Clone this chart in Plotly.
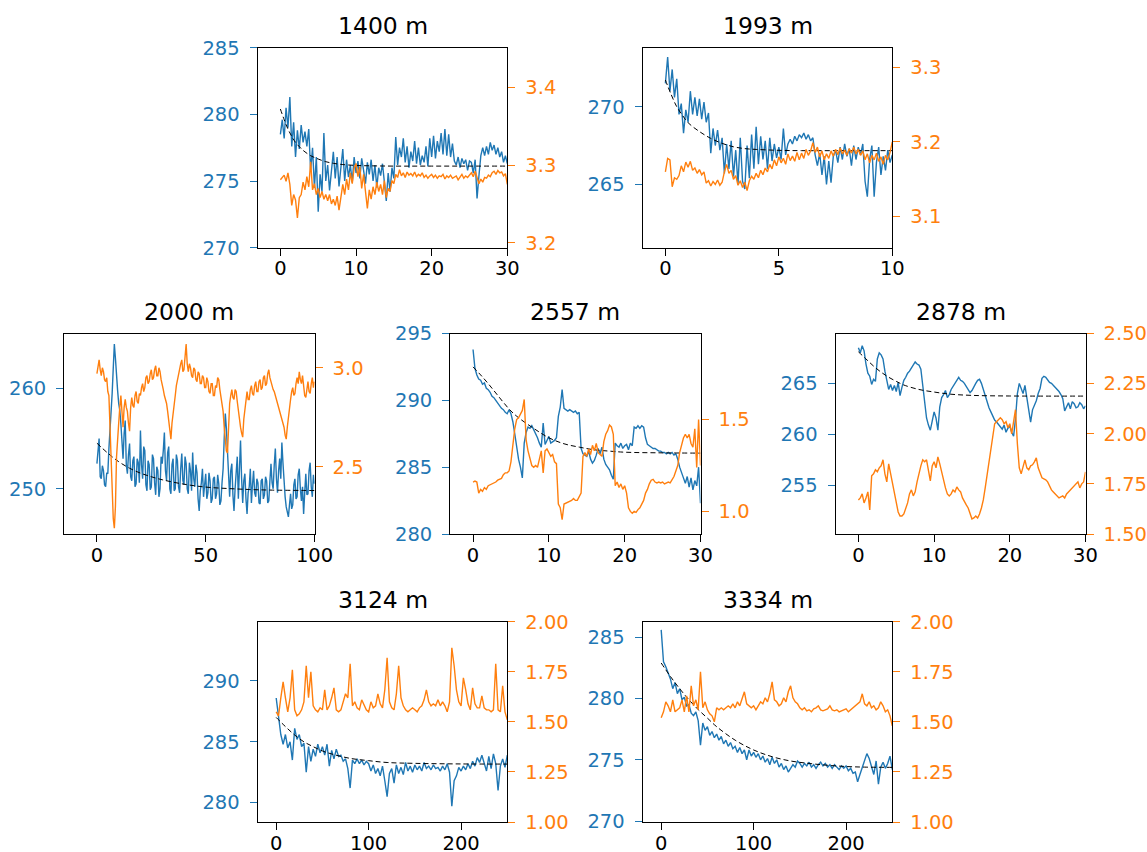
import numpy as np
import plotly.graph_objects as go

BLUE = "#1f77b4"
ORANGE = "#ff7f0e"
FONT = "DejaVu Sans"
W, H = 1147, 852

titles = ["1400 m", "1993 m", "2000 m", "2557 m", "2878 m", "3124 m", "3334 m"]
x_end = [30, 10, 100, 30, 30, 250, 250]

# ---------------- panel 1 : 1400 m ----------------
p1_blue = [278.5, 279.6, 278.2, 280.5, 279.0,
           281.3, 277.6, 279.4, 276.8, 278.8, 277.4, 279.2, 277.9,
           278.7, 277.6, 278.9, 275.8, 277.5, 274.5, 276.8, 272.7,
           275.5, 274.2, 278.6, 275.0, 276.2, 274.3, 275.8, 277.2,
           275.2, 276.8, 274.6, 275.9, 277.4, 275.0, 276.6, 275.3,
           276.2, 274.9, 276.8, 275.6, 276.5, 275.2, 276.7, 275.8,
           274.8, 276.4, 275.5, 276.6, 275.0, 276.2, 274.5, 276.0,
           275.4, 276.3, 274.7, 273.5, 275.6, 274.2, 276.0, 275.2,
           278.3, 276.2, 277.5, 276.8, 278.2, 276.4, 277.6, 276.0,
           277.2, 276.5, 278.0, 276.3, 277.5, 276.2, 276.9, 276.4,
           277.6, 276.1, 278.2, 276.8, 278.4, 276.7, 278.0, 277.2,
           278.6, 277.0, 278.9, 276.9, 278.5, 276.8, 277.8, 276.5,
           276.2, 276.8, 276.0, 276.7, 276.3, 276.6, 275.8, 276.5,
           276.4, 275.6, 276.6, 273.7, 275.4, 276.9, 277.5, 276.9,
           277.6, 277.0, 277.9, 277.3, 277.7, 277.0, 277.5, 276.8,
           277.2, 276.4, 276.9, 276.3]
p1_orange = [3.281, 3.284, 3.287, 3.279, 3.290,
             3.275, 3.248, 3.262, 3.255, 3.232, 3.258, 3.262, 3.278,
             3.268, 3.285, 3.272, 3.304, 3.268, 3.276, 3.262, 3.270,
             3.258, 3.266, 3.256, 3.262, 3.254, 3.262, 3.250, 3.256,
             3.248, 3.260, 3.242, 3.258, 3.275, 3.262, 3.282, 3.268,
             3.290, 3.276, 3.296, 3.302, 3.285, 3.298, 3.270, 3.288,
             3.262, 3.244, 3.268, 3.256, 3.272, 3.262, 3.278, 3.266,
             3.275, 3.262, 3.280, 3.258, 3.270, 3.266, 3.280, 3.276,
             3.288, 3.284, 3.294, 3.286, 3.290, 3.284, 3.291, 3.287,
             3.289, 3.286, 3.291, 3.285, 3.288, 3.286, 3.290, 3.284,
             3.287, 3.283, 3.286, 3.288, 3.284, 3.287, 3.283, 3.286,
             3.285, 3.288, 3.282, 3.286, 3.284, 3.287, 3.283, 3.285,
             3.286, 3.281, 3.285, 3.288, 3.283, 3.286, 3.284, 3.287,
             3.290, 3.285, 3.292, 3.284, 3.276, 3.282, 3.278, 3.284,
             3.283, 3.287, 3.285, 3.290, 3.292, 3.288, 3.293, 3.290,
             3.291, 3.286, 3.289, 3.275]
p1_fit_x = [0, 0.5, 1, 1.5, 2, 3, 4, 5, 6, 7, 8, 10, 12, 15, 20, 25, 30]
p1_fit_y = [280.4, 279.6, 278.9, 278.35, 277.9, 277.3, 276.9, 276.65, 276.45,
            276.33, 276.25, 276.17, 276.14, 276.12, 276.12, 276.12, 276.12]

# ---------------- panel 2 : 1993 m ----------------
p2_blue = [271.5, 273.2, 271.0, 272.4, 270.6, 271.8, 269.5, 270.2, 268.3, 269.8,
           269.0, 271.0, 269.5, 270.6, 269.4, 270.5, 269.2, 270.3, 269.0, 269.6,
           267.0, 268.6, 267.5, 268.5, 267.2, 268.0, 265.7, 267.6, 266.0, 267.8,
           265.5, 267.2, 265.0, 268.0, 265.2, 264.7, 267.5, 265.4, 268.2, 266.0,
           268.7, 266.3, 268.1, 266.6, 267.8, 266.0, 268.0, 266.5, 267.6, 266.7,
           267.4, 266.6, 268.6, 266.9, 267.6, 267.9, 267.6, 268.1, 267.8, 268.2,
           268.0, 268.3, 267.9, 268.2, 267.8, 268.0, 266.9, 266.2, 267.0, 265.6,
           266.8, 265.0, 266.5, 265.1, 266.8, 267.2, 266.4, 267.4, 266.6, 267.6,
           266.8, 267.3, 266.2, 267.5, 266.6, 267.4, 266.9, 267.6, 265.2, 264.2,
           266.6, 267.5, 264.2, 266.4, 267.4, 265.6, 266.8, 265.9, 267.2, 266.4,
           266.9]
p2_orange = [3.160, 3.178, 3.176, 3.140, 3.152, 3.150, 3.155, 3.168, 3.160, 3.173,
             3.166, 3.174, 3.162, 3.165, 3.158, 3.163, 3.156, 3.160, 3.145, 3.148,
             3.141, 3.147, 3.143, 3.149, 3.142, 3.146, 3.160, 3.170, 3.158, 3.162,
             3.150, 3.155, 3.142, 3.148, 3.139, 3.146, 3.135, 3.148, 3.154, 3.150,
             3.158, 3.152, 3.162, 3.156, 3.165, 3.160, 3.170, 3.164, 3.176, 3.168,
             3.180, 3.172, 3.178, 3.170, 3.184, 3.175, 3.181, 3.174, 3.186, 3.176,
             3.185, 3.178, 3.190, 3.182, 3.188, 3.199, 3.186, 3.193, 3.180, 3.188,
             3.176, 3.184, 3.178, 3.188, 3.181, 3.190, 3.183, 3.192, 3.184, 3.189,
             3.182, 3.191, 3.185, 3.193, 3.184, 3.190, 3.182, 3.188, 3.176, 3.184,
             3.172, 3.182, 3.176, 3.185, 3.174, 3.180, 3.170, 3.182, 3.176, 3.186,
             3.200]
p2_fit_x = [0, 0.25, 0.5, 0.75, 1, 1.5, 2, 2.5, 3, 3.5, 4, 5, 6, 8, 10]
p2_fit_y = [271.72, 270.8, 270.0, 269.45, 268.97, 268.4, 267.96, 267.64, 267.42,
            267.3, 267.25, 267.19, 267.17, 267.17, 267.17]

# ---------------- panel 3 : 2000 m ----------------
p3_blue = [252.5, 254.0, 255.0, 251.2, 251.0, 252.3, 251.8, 250.4, 250.2, 251.6,
           251.5, 254.0, 255.5, 257.0, 259.5, 262.0, 264.4, 263.0, 261.0, 259.8,
           258.5, 257.8, 256.5, 254.2, 253.0, 255.5, 256.8, 252.4, 251.5, 253.4,
           254.5, 251.2, 250.8, 252.8, 253.2, 250.2, 250.5, 253.0, 252.6, 250.6,
           255.8, 252.4, 251.0, 254.2, 253.8, 250.4, 249.8, 252.8, 252.4, 249.9,
           250.2, 253.4, 253.0, 250.6, 249.4, 252.2, 251.8, 249.2, 250.0, 253.2,
           252.5, 253.8, 255.6, 251.8, 250.8, 253.6, 254.2, 250.0, 249.5, 252.4,
           253.0, 249.8, 250.0, 253.4, 252.8, 250.2, 249.6, 252.0, 253.5, 250.8,
           250.4, 253.2, 252.5, 250.0, 249.5, 252.6, 251.8, 249.8, 253.6, 251.0,
           250.2, 252.4, 251.6, 249.0, 247.8, 249.8, 250.6, 252.0, 249.2, 250.4,
           251.5, 249.0, 249.6, 251.6, 250.8, 248.6, 249.0, 251.0, 251.2, 249.0,
           249.5, 251.4, 250.5, 248.4, 248.8, 250.6, 252.0, 255.0, 257.5, 256.0,
           254.0, 251.0, 249.2, 251.8, 252.5, 249.4, 247.8, 250.0, 251.2, 253.2,
           249.0, 251.4, 254.8, 251.0, 248.6, 250.8, 251.5, 249.0, 247.5, 249.6,
           250.2, 252.0, 248.6, 250.4, 251.8, 249.6, 249.2, 251.0, 250.6, 248.6,
           248.5, 250.8, 251.0, 249.0, 249.4, 251.2, 250.8, 248.6, 248.8, 250.8,
           252.5, 250.6, 250.0, 252.4, 254.0, 251.0, 249.6, 251.8, 253.0, 251.0,
           254.6, 252.6, 250.5, 249.2, 248.2, 247.6, 247.2, 248.4, 249.5, 248.0,
           248.4, 250.4, 251.0, 249.0, 249.2, 251.4, 252.0, 250.0, 248.8, 250.2,
           247.5, 249.6, 251.5, 249.4, 249.5, 251.8, 252.6, 250.2, 249.2, 251.4,
           250.5]
p3_orange = [2.97, 3.02, 3.04, 2.99, 2.96, 3.00, 2.98, 2.94, 2.93, 2.95,
             2.88, 2.86, 2.72, 2.55, 2.35, 2.24, 2.19, 2.30, 2.55, 2.66,
             2.72, 2.80, 2.86, 2.78, 2.70, 2.80, 2.84, 2.80, 2.78, 2.72,
             2.68, 2.80, 2.85, 2.81, 2.80, 2.86, 2.88, 2.83, 2.82, 2.87,
             2.86, 2.90, 2.92, 2.88, 2.90, 2.95, 2.96, 2.92, 2.93, 2.97,
             2.99, 2.94, 2.95, 2.99, 3.01, 2.96, 2.96, 3.00, 2.98, 2.94,
             2.92, 2.89, 2.86, 2.84, 2.82, 2.78, 2.74, 2.70, 2.64, 2.72,
             2.78, 2.83, 2.86, 2.91, 2.94, 2.97, 2.98, 3.02, 3.04, 2.98,
             2.99, 3.06, 3.12, 3.02, 2.98, 3.02, 3.00, 2.96, 2.95, 3.00,
             2.99, 2.94, 2.93, 2.98, 2.97, 2.92, 2.92, 2.96, 2.95, 2.90,
             2.90, 2.95, 2.93, 2.88, 2.87, 2.92, 2.92, 2.86, 2.86, 2.91,
             2.90, 2.95, 2.94, 2.89, 2.86, 2.82, 2.78, 2.70, 2.62, 2.58,
             2.57, 2.72, 2.82, 2.86, 2.89, 2.85, 2.84, 2.89, 2.88, 2.83,
             2.78, 2.74, 2.70, 2.67, 2.65, 2.74, 2.80, 2.85, 2.88, 2.84,
             2.84, 2.89, 2.91, 2.87, 2.86, 2.91, 2.93, 2.88, 2.88, 2.93,
             2.94, 2.89, 2.90, 2.95, 2.96, 2.91, 2.92, 2.97, 2.99, 2.95,
             2.93, 2.90, 2.89, 2.88, 2.86, 2.83, 2.82, 2.80, 2.78, 2.76,
             2.74, 2.72, 2.70, 2.66, 2.64, 2.70, 2.76, 2.80, 2.84, 2.88,
             2.90, 2.86, 2.87, 2.92, 2.95, 2.92, 2.98, 2.94, 2.92, 2.96,
             2.90, 2.86, 2.85, 2.90, 2.93, 2.88, 2.87, 2.92, 2.95, 2.90,
             2.93]
p3_fit_x = [0, 5, 10, 15, 20, 25, 30, 40, 50, 60, 70, 80, 100]
p3_fit_y = [254.54, 253.55, 252.7, 252.05, 251.56, 251.2, 250.9, 250.46, 250.17,
            250.03, 249.93, 249.87, 249.83]

# ---------------- panel 4 : 2557 m ----------------
p4_blue = [293.8, 292.4, 291.9, 291.6, 291.5, 291.2, 291.3, 290.9, 290.8, 290.6,
           290.3, 290.2, 290.0, 289.8, 289.6, 289.4, 289.3, 289.1, 289.0, 289.3,
           289.0, 288.4, 287.5, 286.4, 285.6, 285.0, 284.2, 286.8, 287.6, 288.0,
           287.9, 288.1, 287.8, 287.6, 287.2, 286.8, 286.5, 288.3, 286.7, 287.0,
           287.3, 286.8, 286.9, 287.0, 287.2, 288.8, 289.5, 290.8, 289.4, 289.3,
           289.2, 289.3, 289.2, 289.1, 289.2, 289.0, 289.1, 286.4, 286.0, 285.9,
           285.8, 286.2, 285.6, 285.3, 285.5, 285.9, 286.4, 286.0, 286.5, 285.6,
           285.2, 285.0, 284.8, 284.4, 284.1, 286.8, 286.6, 286.5, 286.8, 286.4,
           286.6, 286.7, 286.3, 286.8, 286.6, 288.0, 287.9, 288.1, 287.9, 288.1,
           288.0, 287.2, 286.7, 286.6, 286.5, 286.4, 286.4, 286.3, 286.2, 286.2,
           286.1, 286.1, 286.0, 286.1, 286.0, 286.1, 285.9, 286.0, 285.6, 285.0,
           284.5, 284.2, 283.8, 284.3, 283.5, 284.2, 283.3, 284.0, 283.6, 285.0,
           282.3]
p4_orange = [1.16, 1.165, 1.16, 1.10, 1.12, 1.11, 1.13, 1.12, 1.14, 1.145,
             1.15, 1.155, 1.16, 1.17, 1.175, 1.18, 1.20, 1.21, 1.21, 1.22,
             1.27, 1.36, 1.45, 1.50, 1.51, 1.53, 1.55, 1.61, 1.39, 1.33,
             1.28, 1.25, 1.24, 1.25, 1.24, 1.28, 1.33, 1.21, 1.33, 1.34,
             1.32, 1.30, 1.31, 1.27, 1.26, 1.04, 1.02, 0.955, 1.04, 1.045,
             1.05, 1.055, 1.06, 1.07, 1.06, 1.06, 1.08, 1.10, 1.30, 1.32,
             1.30, 1.34, 1.31, 1.36, 1.33, 1.37, 1.32, 1.31, 1.30, 1.38,
             1.42, 1.44, 1.47, 1.46, 1.42, 1.14, 1.16, 1.13, 1.15, 1.12,
             1.14, 1.10, 1.02, 1.00, 0.99, 1.00, 0.995, 1.01, 1.02, 1.04,
             1.06, 1.10, 1.12, 1.15, 1.17, 1.175, 1.16, 1.155, 1.16, 1.155,
             1.16, 1.15, 1.155, 1.16, 1.155, 1.17, 1.19, 1.22, 1.25, 1.32,
             1.36, 1.40, 1.42, 1.40, 1.42, 1.37, 1.35, 1.45, 1.24, 1.50,
             1.25]
p4_fit_x = [0, 1, 2, 3, 4, 5, 6, 8, 10, 12, 14, 16, 18, 20, 25, 30]
p4_fit_y = [292.5, 291.9, 291.25, 290.55, 289.85, 289.2, 288.7, 287.9, 287.2,
            286.75, 286.5, 286.3, 286.2, 286.12, 286.07, 286.05]

# ---------------- panel 5 : 2878 m ----------------
p5_blue = [268.5, 268.0, 268.7, 268.2, 266.9, 266.0, 265.7, 264.9, 265.4, 265.2,
           267.4, 268.0, 267.8, 267.4, 266.2, 265.2, 264.4, 264.9, 264.3, 264.8,
           264.2, 265.1, 263.8, 264.6, 265.3, 265.6, 266.0, 266.2, 266.5, 266.8,
           267.1, 266.9, 266.8, 266.4, 264.8, 263.0, 261.6, 260.9, 260.4, 261.3,
           262.2, 261.6, 260.4, 262.7, 263.6, 263.9, 264.3, 263.6, 263.9, 264.4,
           264.7, 265.0, 265.4, 265.6, 265.3, 265.2, 265.0, 264.7, 264.5, 264.1,
           264.3, 264.7, 265.0, 265.3, 265.4, 265.0, 264.4, 263.7, 263.0, 262.6,
           262.2, 261.7, 261.4, 261.2, 261.0, 260.8, 260.5, 260.9, 260.2, 260.6,
           260.8, 260.2, 259.8, 261.5, 264.0, 265.0, 264.4, 264.0, 264.8, 263.6,
           262.5, 261.2, 262.4, 262.8, 263.3, 264.0, 264.5, 265.5, 265.7, 265.6,
           265.3, 265.1, 265.0, 264.8, 264.7, 264.5, 264.2, 263.9, 263.5, 262.3,
           262.8, 263.1, 262.5, 263.2, 263.0, 262.6, 262.7, 263.1, 262.9, 262.5,
           262.8]
p5_orange = [1.67, 1.68, 1.70, 1.655, 1.68, 1.71, 1.62, 1.79, 1.80, 1.82,
             1.81, 1.83, 1.84, 1.87, 1.80, 1.76, 1.85, 1.80, 1.75, 1.70,
             1.64, 1.61, 1.59, 1.59, 1.60, 1.63, 1.655, 1.70, 1.72, 1.69,
             1.71, 1.76, 1.81, 1.84, 1.87, 1.86, 1.87, 1.82, 1.765, 1.84,
             1.86, 1.83, 1.885, 1.85, 1.81, 1.76, 1.73, 1.70, 1.69, 1.70,
             1.72, 1.71, 1.735, 1.72, 1.71, 1.68, 1.66, 1.645, 1.63, 1.60,
             1.575, 1.58, 1.59, 1.58, 1.60, 1.63, 1.67, 1.73, 1.79, 1.85,
             1.92, 1.98, 2.05, 2.06, 2.07, 2.08, 2.07, 2.05, 2.06, 2.03,
             2.05, 2.00, 2.06, 2.12, 1.95, 1.83, 1.80, 1.84, 1.87, 1.83,
             1.82, 1.84, 1.845, 1.86, 1.88, 1.83, 1.80, 1.78, 1.775, 1.77,
             1.76, 1.74, 1.72, 1.71, 1.70, 1.69, 1.68, 1.685, 1.69, 1.68,
             1.70, 1.71, 1.72, 1.73, 1.74, 1.75, 1.76, 1.73, 1.75, 1.76,
             1.81]
p5_fit_x = [0, 1, 2, 3, 4, 5, 6, 8, 10, 12, 15, 20, 30]
p5_fit_y = [268.1, 267.4, 266.7, 266.1, 265.6, 265.2, 264.84, 264.4, 264.15,
            263.95, 263.82, 263.76, 263.75]

# ---------------- panel 6 : 3124 m ----------------
p6_blue = [288.6, 287.0, 285.6, 284.8, 285.6, 284.5, 285.0, 283.5, 286.1, 285.2,
           285.6, 284.6, 284.9, 282.5, 284.6, 283.4, 284.4, 283.8, 284.8, 284.1,
           284.6, 283.9, 284.8, 283.0, 284.3, 283.6, 284.4, 283.8, 283.9, 283.4,
           283.6, 282.8, 281.2, 283.5, 283.2, 283.6, 283.2, 283.5, 283.1, 283.4,
           283.2, 282.6, 283.1, 282.4, 282.8, 282.2, 283.0, 281.8, 280.5, 282.4,
           282.8, 281.6, 283.1, 282.4, 282.9, 282.3, 283.3, 282.6, 283.0, 282.5,
           283.1, 282.7, 283.0, 282.6, 283.3, 282.8, 283.0, 282.7, 283.1, 282.8,
           282.9, 282.6, 283.0, 282.7, 283.2, 282.5, 279.7, 281.8, 282.2, 282.9,
           282.6, 283.0, 282.7, 283.2, 282.8, 283.4, 283.0, 283.7, 283.3, 283.9,
           283.2, 282.6, 283.8, 282.8, 284.0, 283.2, 281.0, 283.0, 283.6, 282.9,
           283.9]
p6_orange = [1.55, 1.53, 1.62, 1.70, 1.62, 1.55, 1.62, 1.76, 1.56, 1.53,
             1.54, 1.56, 1.60, 1.78, 1.62, 1.75, 1.58, 1.56, 1.55, 1.57,
             1.56, 1.66, 1.56, 1.58, 1.62, 1.67, 1.56, 1.55, 1.56, 1.60,
             1.64, 1.62, 1.79, 1.58, 1.60, 1.57, 1.56, 1.61, 1.58, 1.56,
             1.55, 1.60, 1.57, 1.58, 1.64, 1.59, 1.57, 1.66, 1.82, 1.60,
             1.57, 1.56, 1.64, 1.78, 1.62, 1.58, 1.56, 1.55, 1.56, 1.57,
             1.56, 1.55, 1.57, 1.58, 1.61, 1.66, 1.60, 1.58, 1.59, 1.58,
             1.61, 1.58, 1.60, 1.58, 1.55, 1.60, 1.87, 1.78, 1.66, 1.60,
             1.58, 1.72, 1.66, 1.59, 1.56, 1.67, 1.59, 1.57, 1.57, 1.63,
             1.57, 1.56, 1.56, 1.55, 1.56, 1.79, 1.56, 1.55, 1.68, 1.55,
             1.51]
p6_fit_x = [0, 10, 20, 30, 40, 50, 60, 80, 100, 120, 150, 200, 250]
p6_fit_y = [287.0, 286.25, 285.56, 285.0, 284.6, 284.25, 284.0, 283.64, 283.45,
            283.3, 283.23, 283.18, 283.17]

# ---------------- panel 7 : 3334 m ----------------
p7_blue = [285.6, 283.0, 282.6, 282.1, 281.6, 280.8, 281.3, 280.4, 280.8, 279.9,
           280.1, 279.4, 279.5, 278.8, 278.6, 278.9, 278.2, 276.2, 278.0, 277.4,
           277.7, 277.0, 277.3, 276.8, 277.1, 276.6, 276.9, 276.3, 276.6, 276.1,
           276.4, 275.9, 276.1, 275.6, 276.0, 275.5, 275.8, 275.0, 275.8, 275.3,
           275.6, 275.2, 275.5, 275.0, 275.3, 274.8, 275.1, 274.6, 275.2, 274.7,
           275.0, 274.4, 274.7, 274.2, 274.5, 274.0, 274.3, 274.6, 274.4, 274.9,
           274.7, 274.4, 274.7, 274.5, 274.8, 274.4, 274.6, 274.3, 274.6, 274.8,
           274.5, 274.7, 274.4, 274.6, 274.3, 274.6, 274.4, 274.2, 274.5, 274.3,
           274.5, 274.1, 274.3, 273.9, 274.0, 273.2, 273.8, 274.4, 274.9, 275.5,
           275.1, 274.4, 273.8, 274.9, 273.0, 274.4, 274.8, 274.3, 274.7, 275.3,
           274.2]
p7_orange = [1.52, 1.55, 1.60, 1.58, 1.55, 1.61, 1.55, 1.56, 1.57, 1.61,
             1.55, 1.63, 1.55, 1.68, 1.58, 1.61, 1.56, 1.75, 1.57, 1.60,
             1.56, 1.54, 1.53, 1.50, 1.57, 1.56, 1.57, 1.56, 1.57, 1.58,
             1.57, 1.59, 1.57, 1.60, 1.58, 1.61, 1.65, 1.59, 1.58, 1.57,
             1.58, 1.56, 1.58, 1.60, 1.59, 1.62, 1.60, 1.64, 1.70, 1.61,
             1.60, 1.58, 1.59, 1.62, 1.60, 1.65, 1.68, 1.62, 1.60, 1.59,
             1.57, 1.56, 1.57, 1.555, 1.56, 1.55, 1.565, 1.57, 1.58, 1.56,
             1.555, 1.56, 1.565, 1.58, 1.56, 1.555, 1.56, 1.55, 1.555, 1.56,
             1.565, 1.55, 1.56, 1.57, 1.58, 1.59, 1.60, 1.64, 1.59, 1.58,
             1.60, 1.57, 1.58, 1.56, 1.57, 1.60, 1.58, 1.55, 1.56, 1.53,
             1.48]
p7_fit_x = [0, 10, 20, 30, 40, 50, 60, 80, 100, 120, 140, 160, 180, 200, 220, 250]
p7_fit_y = [282.9, 281.8, 280.8, 279.9, 279.1, 278.4, 277.7, 276.6, 275.8, 275.25,
            274.9, 274.7, 274.55, 274.45, 274.4, 274.38]

# axis ranges and ticks
x_ranges = [[-3, 30], [-1, 10], [-15, 100], [-3, 30], [-3, 30], [-20, 250], [-20, 250]]
x_ticks = [[0, 10, 20, 30], [0, 5, 10], [0, 50, 100], [0, 10, 20, 30],
           [0, 10, 20, 30], [0, 100, 200], [0, 100, 200]]
yl_ranges = [[270, 285], [260.92, 273.8], [245.5, 265.46], [280, 295],
             [250.2, 269.9], [278.41, 294.87], [269.92, 286.27]]
yl_ticks = [[270, 275, 280, 285], [265, 270], [250, 260], [280, 285, 290, 295],
            [255, 260, 265], [280, 285, 290], [270, 275, 280, 285]]
yr_ranges = [[3.1936, 3.451], [3.0585, 3.326], [2.161, 3.173], [0.877, 1.969],
             [1.5, 2.5], [1.0, 2.0], [1.0, 2.0]]
yr_ticks = [[3.2, 3.3, 3.4], [3.1, 3.2, 3.3], [2.5, 3.0], [1.0, 1.5],
            [1.5, 1.75, 2.0, 2.25, 2.5], [1.0, 1.25, 1.5, 1.75, 2.0],
            [1.0, 1.25, 1.5, 1.75, 2.0]]
yr_fmt = [".1f", ".1f", ".1f", ".1f", ".2f", ".2f", ".2f"]

# panel boxes in pixels: left, right, top, bottom
boxes = [(257.7, 507.3, 47.7, 247.7), (642.7, 892.3, 47.7, 247.7),
         (64.3, 314.5, 333.5, 534.0), (450.3, 700.5, 333.5, 534.0),
         (835.7, 1085.5, 333.5, 534.0),
         (257.7, 507.3, 621.7, 822.0), (642.7, 892.3, 621.7, 822.0)]

blues = [p1_blue, p2_blue, p3_blue, p4_blue, p5_blue, p6_blue, p7_blue]
oranges = [p1_orange, p2_orange, p3_orange, p4_orange, p5_orange, p6_orange, p7_orange]
fits_x = [p1_fit_x, p2_fit_x, p3_fit_x, p4_fit_x, p5_fit_x, p6_fit_x, p7_fit_x]
fits_y = [p1_fit_y, p2_fit_y, p3_fit_y, p4_fit_y, p5_fit_y, p6_fit_y, p7_fit_y]

fig = go.Figure()
layout = dict(width=W, height=H, margin=dict(l=0, r=0, t=0, b=0, pad=0),
              autosize=False,
              paper_bgcolor="white", plot_bgcolor="white", showlegend=False,
              font=dict(family=FONT, size=19, color="black"))
annotations = []

TICK_FONT = 19.5
for k in range(7):
    i = k + 1
    xa = "x" if i == 1 else f"x{i}"
    yl_name = 2 * k + 1
    yr_name = 2 * k + 2
    yl = "y" if yl_name == 1 else f"y{yl_name}"
    yr = f"y{yr_name}"
    L, R, T, B = boxes[k]
    xd = [L / W, R / W]
    yd = [1 - B / H, 1 - T / H]

    tb = np.linspace(0, x_end[k], len(blues[k]))
    to = np.linspace(0, x_end[k], len(oranges[k]))
    fig.add_trace(go.Scatter(x=tb, y=blues[k], mode="lines", xaxis=xa, yaxis=yl,
                             line=dict(color=BLUE, width=1.4), hoverinfo="skip"))
    fig.add_trace(go.Scatter(x=fits_x[k], y=fits_y[k], mode="lines", xaxis=xa, yaxis=yl,
                             line=dict(color="black", width=1.0, dash="5px,3px",
                                       shape="spline"), hoverinfo="skip"))
    fig.add_trace(go.Scatter(x=to, y=oranges[k], mode="lines", xaxis=xa, yaxis=yr,
                             line=dict(color=ORANGE, width=1.4), hoverinfo="skip"))

    layout["xaxis" if i == 1 else f"xaxis{i}"] = dict(
        domain=xd, anchor=yl, range=x_ranges[k], tickvals=x_ticks[k],
        showline=True, linecolor="black", linewidth=1.3, mirror=True,
        ticks="outside", ticklen=7, tickwidth=1.3, tickcolor="black",
        showgrid=False, zeroline=False, ticklabelstandoff=-4, automargin=False,
        tickfont=dict(family=FONT, size=TICK_FONT, color="black"))
    layout["yaxis" if yl_name == 1 else f"yaxis{yl_name}"] = dict(
        domain=yd, anchor=xa, range=yl_ranges[k], tickvals=yl_ticks[k],
        showline=True, linecolor="black", linewidth=1.3, side="left",
        ticks="outside", ticklen=7, tickwidth=1.3, tickcolor=BLUE,
        showgrid=False, zeroline=False, ticklabelstandoff=6, automargin=False,
        tickfont=dict(family=FONT, size=TICK_FONT, color=BLUE))
    layout[f"yaxis{yr_name}"] = dict(
        domain=yd, anchor=xa, overlaying=yl, side="right",
        range=yr_ranges[k], tickvals=yr_ticks[k], tickformat=yr_fmt[k],
        showline=True, linecolor="black", linewidth=1.3,
        ticks="outside", ticklen=7, tickwidth=1.3, tickcolor=ORANGE,
        showgrid=False, zeroline=False, ticklabelstandoff=6, automargin=False,
        tickfont=dict(family=FONT, size=TICK_FONT, color=ORANGE))
    annotations.append(dict(text=titles[k], xref="paper", yref="paper",
                            x=(xd[0] + xd[1]) / 2, y=yd[1], xanchor="center",
                            yanchor="bottom", yshift=6, showarrow=False,
                            font=dict(family=FONT, size=23.5, color="black")))

layout["annotations"] = annotations
fig.update_layout(**layout)
fig.write_html("out.html",
               post_script="document.body.style.margin='0';"
                           "document.body.style.padding='0';"
                           "document.body.style.overflow='hidden';")
